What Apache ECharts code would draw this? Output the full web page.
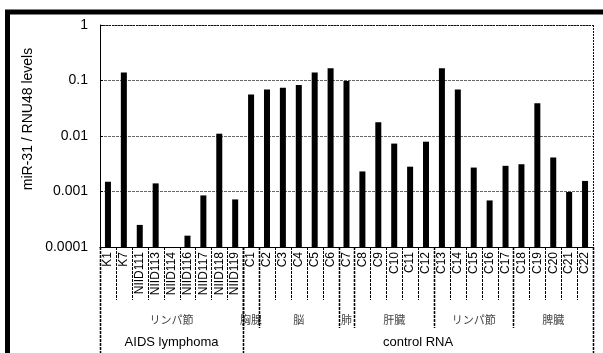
<!DOCTYPE html>
<html>
<head>
<meta charset="utf-8">
<script src="https://cdn.jsdelivr.net/npm/echarts@6/dist/echarts.min.js"></script>
<style>
  html, body { margin: 0; padding: 0; background: #fff; }
  #chart { width: 603px; height: 353px; }
</style>
</head>
<body>
<div id="chart"></div>
<script>
// samples along the x axis
const categories = ['K1', 'K7', 'NIID111', 'NIID113', 'NIID114', 'NIID116', 'NIID117', 'NIID118', 'NIID119',
  'C1', 'C2', 'C3', 'C4', 'C5', 'C6', 'C7', 'C8', 'C9', 'C10', 'C11',
  'C12', 'C13', 'C14', 'C15', 'C16', 'C17', 'C18', 'C19', 'C20', 'C21', 'C22'];
// miR-31 / RNU48 (NIID114 not detected)
const levels = [0.0015, 0.14, 0.00025, 0.0014, null, 0.00016, 0.00085, 0.011, 0.00072,
  0.056, 0.069, 0.074, 0.083, 0.14, 0.166, 0.098, 0.0023, 0.0177, 0.0073, 0.0028,
  0.0079, 0.166, 0.069, 0.0027, 0.00069, 0.0029, 0.0031, 0.039, 0.0041, 0.00098, 0.00155];
const yTickLabels = ['0.0001', '0.001', '0.01', '0.1', '1'];
// second row: tissue, third row: group
const tissueNames = ['リンパ節', '胸腺', '脳', '肺', '肝臓', 'リンパ節', '脾臓'];
const tissueSizes = [9, 1, 5, 1, 5, 5, 5];
const groupNames = ['AIDS lymphoma', 'control RNA'];
const groupSizes = [9, 22];

const LATIN = 'Liberation Sans, Arial, sans-serif';
const CJK = 'Noto Sans CJK JP, sans-serif';

const chart = echarts.init(document.getElementById('chart'), null, { renderer: 'canvas' });

chart.setOption({
  animation: false,
  backgroundColor: '#fff',
  grid: { left: 100, right: 10, top: 25, bottom: 106, containLabel: false },
  xAxis: {
    type: 'category',
    data: categories,
    axisLine: { lineStyle: { color: '#000', width: 1 } },
    axisTick: { show: false },
    axisLabel: {
      interval: 0, rotate: 90, margin: 5,
      fontFamily: LATIN, fontSize: 12, color: '#000'
    }
  },
  yAxis: {
    type: 'log',
    logBase: 10,
    min: 0.0001,
    max: 1,
    startValue: 0.0001,
    axisLine: { show: true, lineStyle: { color: '#000', width: 1 } },
    axisTick: { show: true, inside: true, length: 3, lineStyle: { color: '#000' } },
    axisLabel: {
      margin: 12, fontFamily: LATIN, fontSize: 14, color: '#000',
      formatter: v => yTickLabels[Math.round(Math.log10(v)) + 4]
    },
    splitLine: { show: true, lineStyle: { color: '#666', width: 1, type: [3, 1] } }
  },
  series: [{
    type: 'bar',
    data: levels,
    barWidth: 6,
    itemStyle: { color: '#000' }
  }]
});

// hierarchy below the axis, placed from the axis scales
function drawHierarchy() {
  const xAt = i => chart.convertToPixel({ xAxisIndex: 0 }, i);
  const band = xAt(1) - xAt(0);
  const edge = i => xAt(i) - band / 2; // left edge of category i
  const yBase = chart.convertToPixel({ yAxisIndex: 0 }, 0.0001);
  const yTop = chart.convertToPixel({ yAxisIndex: 0 }, 1);
  const n = categories.length;
  const right = edge(n);
  const sepStyle = { stroke: '#000', lineWidth: 1, lineDash: [3, 1] };
  const els = [];

  const vline = (x, y2, w) => els.push({
    type: 'line', silent: true,
    shape: { x1: Math.round(x) + 0.5, y1: yBase, x2: Math.round(x) + 0.5, y2: y2 },
    style: Object.assign({}, sepStyle, { lineWidth: w || 1 })
  });

  // category separators
  for (let i = 1; i < n; i++) vline(edge(i), yBase + 53);

  // tissue row
  let start = 0;
  tissueNames.forEach((name, k) => {
    const end = start + tissueSizes[k];
    if (start > 0) vline(edge(start), yBase + 81, 1.5);
    els.push({
      type: 'text', silent: true,
      x: (edge(start) + edge(end)) / 2, y: yBase + 73,
      style: { text: name, fontFamily: CJK, fontSize: 11, fill: '#444', align: 'center', verticalAlign: 'middle' }
    });
    start = end;
  });

  // group row
  start = 0;
  groupNames.forEach((name, k) => {
    const end = start + groupSizes[k];
    vline(edge(start), 353, 1.5);
    els.push({
      type: 'text', silent: true,
      x: (edge(start) + edge(end)) / 2, y: yBase + 95,
      style: { text: name, fontFamily: LATIN, fontSize: 13, fill: '#000', align: 'center', verticalAlign: 'middle' }
    });
    start = end;
  });
  vline(right, 353, 1.5);

  // plot border: top and right
  els.push({ type: 'line', silent: true, shape: { x1: edge(0), y1: yTop + 0.5, x2: right, y2: yTop + 0.5 },
    style: { stroke: '#111', lineWidth: 1, lineDash: [2, 1] } });
  els.push({ type: 'line', silent: true, shape: { x1: Math.round(right) + 0.5, y1: yTop, x2: Math.round(right) + 0.5, y2: yBase },
    style: { stroke: '#111', lineWidth: 1, lineDash: [2, 1] } });

  // axis title
  els.push({
    type: 'text', silent: true, x: 28, y: 119, rotation: Math.PI / 2,
    style: { text: 'miR-31 / RNU48 levels', fontFamily: LATIN, fontSize: 14, fill: '#000', align: 'center', verticalAlign: 'middle' }
  });

  // outer frame (cropped: left and top edges)
  els.push({ type: 'polyline', silent: true, shape: { points: [[7.5, 353], [7.5, 12], [603, 12]] },
    style: { stroke: '#000', lineWidth: 5, fill: null } });

  chart.setOption({ graphic: els });
}
drawHierarchy();
</script>
</body>
</html>
